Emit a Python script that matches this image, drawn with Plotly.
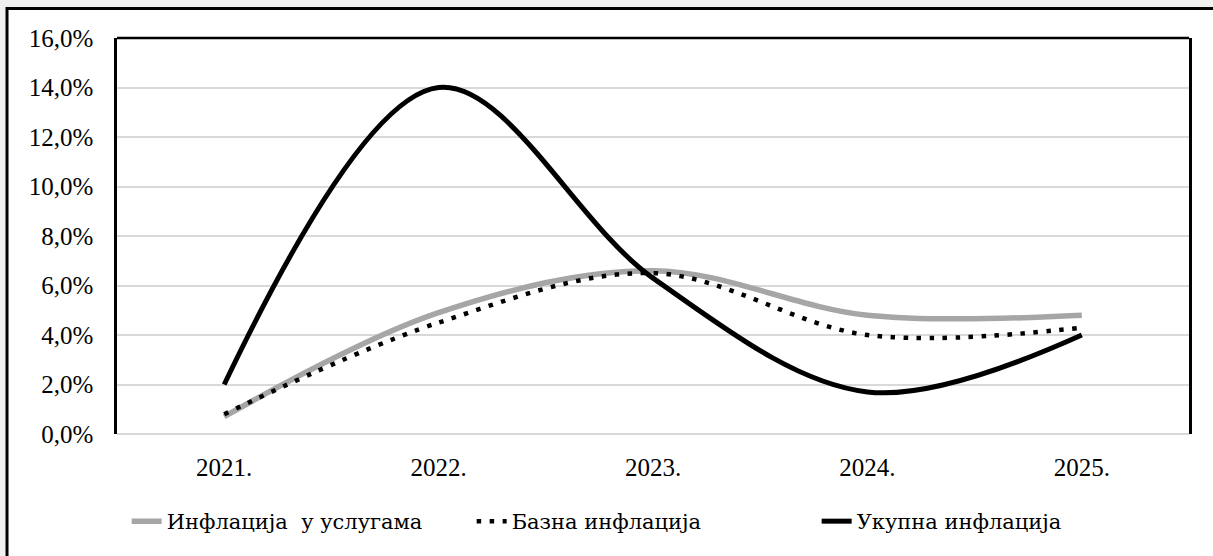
import plotly.graph_objects as go

years = ["2021.", "2022.", "2023.", "2024.", "2025."]
usluge = [0.7, 4.9, 6.6, 4.8, 4.8]
bazna = [0.8, 4.5, 6.5, 4.0, 4.3]
ukupna = [2.0, 14.0, 6.3, 1.7, 4.0]

names = ["Инфлација  у услугама", "Базна инфлација", "Укупна инфлација"]
y_ticks = [0, 2, 4, 6, 8, 10, 12, 14, 16]
y_labels = [f"{v:.1f}%".replace(".", ",") for v in y_ticks]

FONT = "Liberation Serif"
LEGEND_FONT = "DejaVu Serif"  # Liberation Serif has no Cyrillic here

fig = go.Figure()
fig.add_trace(go.Scatter(x=years, y=usluge, name=names[0], mode="lines",
                         line=dict(color="#a6a6a6", width=5.5, shape="spline", smoothing=1)))
fig.add_trace(go.Scatter(x=years, y=bazna, name=names[1], mode="lines",
                         line=dict(color="black", width=4.5, dash="4.5px,8.5px", shape="spline", smoothing=1)))
fig.add_trace(go.Scatter(x=years, y=ukupna, name=names[2], mode="lines",
                         line=dict(color="black", width=5, shape="spline", smoothing=1)))

# outer chart frame and top edge of the plot area
fig.add_shape(type="rect", xref="paper", yref="paper",
              x0=-0.1026, x1=1.03, y0=-0.34, y1=1.0746,
              line=dict(color="black", width=3), fillcolor="white", layer="below")
fig.add_shape(type="line", xref="paper", yref="paper", x0=0, x1=1, y0=1, y1=1,
              line=dict(color="black", width=2.5))

fig.update_layout(
    width=1213, height=556,
    margin=dict(l=117, r=24, t=38, b=122),
    paper_bgcolor="#f0f0f0", plot_bgcolor="white",
    font=dict(family=FONT, size=25, color="black"),
    showlegend=True,
    legend=dict(orientation="h", x=0.009, xanchor="left", y=-0.221, yanchor="middle",
                bgcolor="rgba(0,0,0,0)", font=dict(family=LEGEND_FONT, size=21),
                entrywidth=300, entrywidthmode="pixels"),
)
fig.update_xaxes(type="category", range=[-0.5, 4.5], showgrid=False, showline=False,
                 zeroline=False, ticks="", ticklabelstandoff=16,
                 tickfont=dict(family=FONT, size=25))
fig.update_yaxes(range=[0, 16], tickvals=y_ticks, ticktext=y_labels,
                 tickfont=dict(family=FONT, size=25),
                 showgrid=True, gridcolor="#d9d9d9", gridwidth=2,
                 zeroline=True, zerolinecolor="#d9d9d9", zerolinewidth=2,
                 showline=True, linecolor="black", linewidth=2.5, mirror=True,
                 ticks="", ticklabelstandoff=16)

fig.write_html("out.html", config={"displayModeBar": False},
               post_script="document.body.style.margin='0px';")
